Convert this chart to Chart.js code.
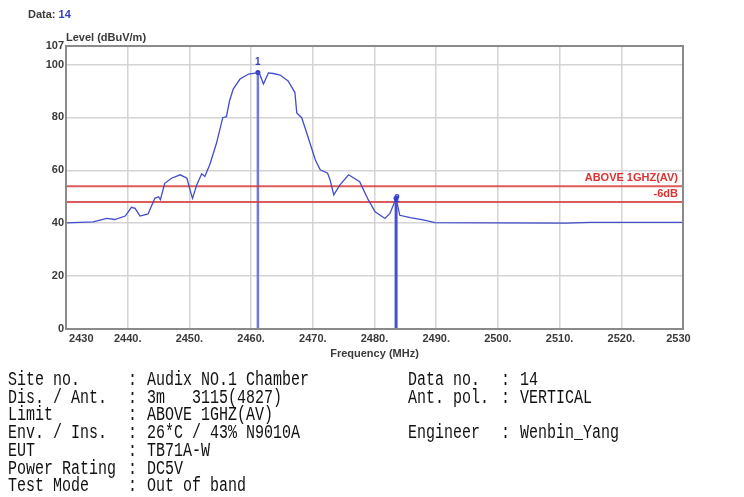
<!DOCTYPE html>
<html>
<head>
<meta charset="utf-8">
<script src="https://cdn.jsdelivr.net/npm/chart.js@4/dist/chart.umd.min.js"></script>
<style>
  html, body { margin: 0; padding: 0; background: #fff; }
  #wrap { width: 744px; height: 497px; }
</style>
</head>
<body>
<div id="wrap"><canvas id="emiChart" width="744" height="497"></canvas></div>
<script>
'use strict'

// trace (MHz, dBuV/m)
const freqs = [2430, 2434.4, 2436.6, 2437.9, 2439.6, 2440.6, 2441.2, 2442, 2443.3, 2444.4,
  2445, 2445.3, 2446, 2447.1, 2448.5, 2449.6, 2450.1, 2450.5, 2451.2, 2452,
  2452.5, 2453.3, 2454.4, 2455.4, 2456, 2456.5, 2457.1, 2458.2, 2459.6, 2460.9,
  2461.3, 2462, 2462.8, 2463.6, 2464.7, 2466, 2467.1, 2467.4, 2468.2, 2469,
  2470.4, 2471.2, 2472.4, 2472.8, 2473.4, 2474.4, 2475.8, 2477.6, 2479, 2480.1,
  2481.7, 2482.5, 2483.5, 2484.1, 2485.8, 2487.9, 2489.8, 2500, 2511, 2515, 2530];
const levels = [40.1, 40.5, 41.8, 41.4, 42.7, 46, 45.6, 42.7, 43.5, 49.4,
  50, 48.9, 55.1, 57, 58.3, 57, 52.6, 49.4, 54.5, 58.7,
  57.7, 62.1, 70.3, 79.9, 80.3, 86.2, 90.7, 94.5, 96.4, 96.8,
  97, 92.6, 96.8, 96.6, 96, 93.8, 89.4, 81.7, 79.9, 74.2,
  64, 60.2, 58.9, 56.4, 50.7, 54.5, 58.3, 55.7, 48.8, 44.3,
  41.8, 43.7, 49.4, 43, 42.1, 41.3, 40.2, 40.1, 40.0, 40.3, 40.3];

const limitNames = ['ABOVE 1GHZ(AV)', '-6dB'];
const limitValues = [54, 48];

const markerNames = ['1', '2'];
const markerFreqs = [2461.1, 2483.5];
const markerLevels = [97, 49.4];

const xTicks = [2430, 2440, 2450, 2460, 2470, 2480, 2490, 2500, 2510, 2520, 2530];
const yTicks = [0, 20, 40, 60, 80, 100, 107];

const infoLeft = [
  ['Site no.', 'Audix NO.1 Chamber'],
  ['Dis. / Ant.', '3m   3115(4827)'],
  ['Limit', 'ABOVE 1GHZ(AV)'],
  ['Env. / Ins.', '26*C / 43% N9010A'],
  ['EUT', 'TB71A-W'],
  ['Power Rating', 'DC5V'],
  ['Test Mode', 'Out of band']
];
const infoRight = [
  ['Data no.', '14', 0],
  ['Ant. pol.', 'VERTICAL', 1],
  ['Engineer', 'Wenbin_Yang', 3]
];

const traceData = freqs.map((f, i) => ({ x: f, y: levels[i] }));

let datasets = [{
  label: 'trace',
  data: traceData,
  borderColor: 'rgb(66, 76, 204)',
  borderWidth: 1.3,
  pointRadius: 0,
  tension: 0
}];

limitValues.forEach(function (v, i) {
  datasets.push({
    label: limitNames[i],
    data: [{ x: 2430, y: v }, { x: 2530, y: v }],
    borderColor: 'rgba(214, 62, 62, 0.85)',
    borderWidth: 2,
    pointRadius: 0
  });
});

markerFreqs.forEach(function (f, i) {
  datasets.push({
    label: 'marker ' + markerNames[i],
    data: [{ x: f, y: 0 }, { x: f, y: markerLevels[i] }],
    borderColor: i == 0 ? 'rgba(90, 100, 220, 0.85)' : 'rgb(70, 80, 205)',
    borderWidth: i == 0 ? 2.5 : 3,
    pointRadius: [0, 2.5],
    pointBackgroundColor: 'rgb(50, 60, 200)',
    pointBorderWidth: 0
  });
});

const txtPlugin = {
  id: 'txtPlugin',
  afterDraw(chart) {
    const ctx = chart.ctx;
    const a = chart.chartArea;
    const xs = chart.scales.x, ys = chart.scales.y;
    ctx.save();

    // frame
    ctx.strokeStyle = '#8a8a8a';
    ctx.lineWidth = 2;
    ctx.strokeRect(a.left, a.top, a.right - a.left, a.bottom - a.top);

    ctx.textBaseline = 'middle';
    ctx.font = 'bold 11px "Liberation Sans", Arial, sans-serif';
    ctx.fillStyle = '#3a3a3a';
    ctx.textAlign = 'left';
    ctx.fillText('Data:', 28, 15);
    ctx.fillStyle = 'rgb(50, 60, 200)';
    ctx.fillText('14', 28 + ctx.measureText('Data: ').width, 15);

    ctx.fillStyle = '#3a3a3a';
    ctx.fillText('Level (dBuV/m)', 66, 38);

    // limit labels
    ctx.fillStyle = 'rgb(220, 50, 50)';
    ctx.textAlign = 'right';
    ctx.fillText(limitNames[0], a.right - 5, ys.getPixelForValue(limitValues[0]) - 8);
    ctx.fillText(limitNames[1], a.right - 5, ys.getPixelForValue(limitValues[1]) - 8);

    // marker labels
    ctx.fillStyle = 'rgb(50, 60, 200)';
    ctx.textAlign = 'center';
    ctx.font = 'bold 10px "Liberation Sans", Arial, sans-serif';
    ctx.fillText(markerNames[0], xs.getPixelForValue(markerFreqs[0]), ys.getPixelForValue(markerLevels[0]) - 10);
    ctx.fillText(markerNames[1], xs.getPixelForValue(markerFreqs[1]) + 1, ys.getPixelForValue(markerLevels[1]) + 1);

    // info block
    ctx.fillStyle = '#111';
    ctx.textAlign = 'left';
    ctx.textBaseline = 'alphabetic';
    ctx.font = '15px "Liberation Mono", monospace';
    function line(x, y, s) {
      ctx.save();
      ctx.translate(x, y);
      ctx.scale(1, 1.3);
      ctx.fillText(s, 0, 0);
      ctx.restore();
    }
    for (let i = 0; i < infoLeft.length; i++) {
      let y = 385 + i * 17.7;
      line(8, y, infoLeft[i][0]);
      line(128, y, ':');
      line(147, y, infoLeft[i][1]);
    }
    for (let i = 0; i < infoRight.length; i++) {
      let y = 385 + infoRight[i][2] * 17.7;
      line(408, y, infoRight[i][0]);
      line(501, y, ':');
      line(520, y, infoRight[i][1]);
    }
    ctx.restore();
  }
};

const ctx = document.getElementById('emiChart').getContext('2d');
const emiChart = new Chart(ctx, {
  type: 'line',
  data: { datasets: datasets },
  options: {
    responsive: false,
    animation: false,
    layout: { padding: { left: 0, top: 46, right: 61, bottom: 132 } },
    plugins: { legend: { display: false }, tooltip: { enabled: false } },
    scales: {
      x: {
        type: 'linear',
        min: 2430,
        max: 2530,
        afterFit: function (s) { s.height = 36; },
        afterBuildTicks: function (s) { s.ticks = xTicks.map(v => ({ value: v })); },
        grid: { color: '#d4d4d4', lineWidth: 1.5, drawTicks: false },
        border: { display: false },
        ticks: {
          padding: 3,
          maxRotation: 0,
          autoSkip: false,
          color: '#3a3a3a',
          font: { family: '"Liberation Sans", Arial, sans-serif', size: 11, weight: 'bold' },
          callback: function (v, i) {
            // first and last labels sit inside the frame like in the original
            if (v == 2430) return '\u2007\u2007\u2007\u2007\u20072430';
            if (v == 2530) return '2530\u2007 ';
            return v + '.';
          }
        },
        title: {
          display: true,
          text: 'Frequency (MHz)',
          color: '#3a3a3a',
          font: { family: '"Liberation Sans", Arial, sans-serif', size: 11, weight: 'bold' }
        }
      },
      y: {
        min: 0,
        max: 107,
        afterFit: function (s) { s.width = 66; },
        afterBuildTicks: function (s) { s.ticks = yTicks.map(v => ({ value: v })); },
        grid: { color: '#d4d4d4', lineWidth: 1.5, drawTicks: false },
        border: { display: false },
        ticks: {
          padding: 2,
          autoSkip: false,
          color: '#3a3a3a',
          font: { family: '"Liberation Sans", Arial, sans-serif', size: 11, weight: 'bold' }
        }
      }
    }
  },
  plugins: [txtPlugin]
});
</script>
</body>
</html>
